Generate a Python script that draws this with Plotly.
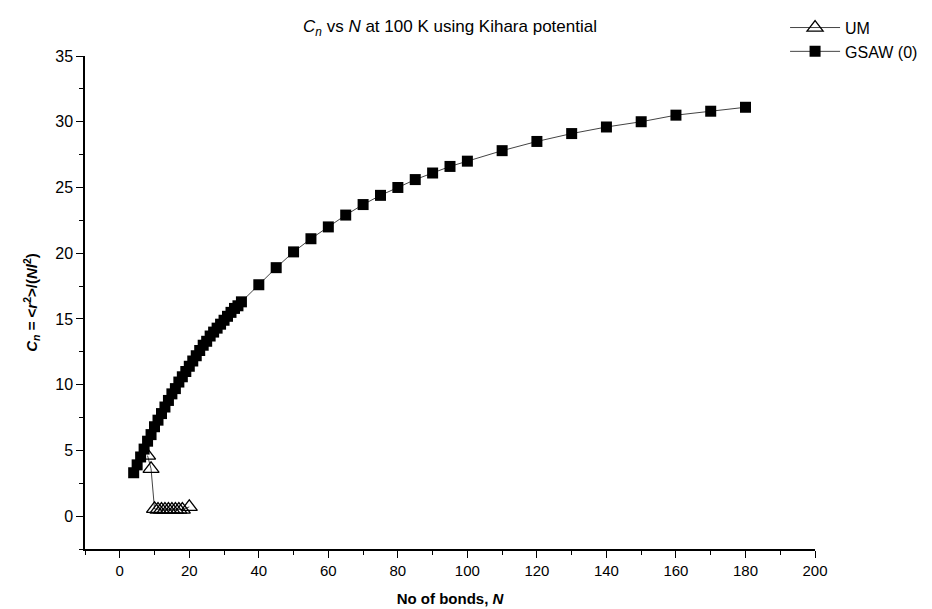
import plotly.graph_objects as go

# GSAW (0) data
gsaw_n = list(range(4, 36)) + list(range(40, 101, 5)) + list(range(110, 181, 10))
gsaw_cn = [3.3, 3.9, 4.5, 5.1, 5.7, 6.2, 6.8, 7.3, 7.8, 8.3, 8.8, 9.3, 9.7, 10.2, 10.6, 11.0,
           11.4, 11.8, 12.2, 12.6, 13.0, 13.3, 13.7, 14.0, 14.3, 14.6, 14.9, 15.2, 15.5, 15.8,
           16.0, 16.3,
           17.6, 18.9, 20.1, 21.1, 22.0, 22.9, 23.7, 24.4, 25.0, 25.6, 26.1, 26.6, 27.0,
           27.8, 28.5, 29.1, 29.6, 30.0, 30.5, 30.8, 31.1]

# UM data
um_n = [8, 9, 10, 11, 12, 13, 14, 15, 16, 17, 18, 20]
um_cn = [4.6, 3.6, 0.55, 0.5, 0.5, 0.5, 0.5, 0.5, 0.5, 0.5, 0.5, 0.7]

FONT = "Liberation Sans, Arial, sans-serif"

fig = go.Figure()
fig.add_trace(go.Scatter(
    x=um_n, y=um_cn, mode="lines+markers", name="UM",
    line=dict(color="#444444", width=1),
    marker=dict(symbol="triangle-up-open", size=14, color="black", line=dict(width=1.3, color="black")),
))
fig.add_trace(go.Scatter(
    x=gsaw_n, y=gsaw_cn, mode="lines+markers", name="GSAW (0)",
    line=dict(color="#444444", width=1),
    marker=dict(symbol="square", size=11, color="black", line=dict(width=0)),
))

fig.update_layout(
    width=932, height=609,
    paper_bgcolor="white", plot_bgcolor="white",
    margin=dict(l=85, r=117, t=56, b=60, autoexpand=False),
    font=dict(family=FONT, size=14, color="black"),
    title=dict(
        text="<i>C<sub>n</sub></i> vs <i>N</i> at 100 K using Kihara potential",
        x=0.5, xref="paper", xanchor="center", y=0.967, yref="container",
        font=dict(family=FONT, size=17, color="black"),
    ),
    legend=dict(
        x=0.959, y=1.092, xanchor="left", yanchor="top",
        bgcolor="rgba(0,0,0,0)", font=dict(family=FONT, size=16),
        tracegroupgap=0, itemwidth=50,
    ),
    showlegend=True,
)

fig.update_xaxes(
    range=[-10, 200], tick0=0, dtick=20,
    showline=True, linecolor="black", linewidth=1.5, mirror=False,
    ticks="outside", ticklen=7, tickwidth=1.3, tickcolor="black",
    minor=dict(ticks="outside", ticklen=4, tickwidth=1.3, tickcolor="black", dtick=10, tick0=0, showgrid=False),
    showgrid=False, zeroline=False,
    tickfont=dict(family=FONT, size=15),
    title=dict(text="<b>No of bonds, <i>N</i></b>", font=dict(family=FONT, size=15), standoff=16),
)
fig.update_yaxes(
    range=[-2.5, 35], tick0=0, dtick=5,
    showline=True, linecolor="black", linewidth=1.5, mirror=False,
    ticks="outside", ticklen=7, tickwidth=1.3, tickcolor="black",
    minor=dict(ticks="outside", ticklen=4, tickwidth=1.3, tickcolor="black", dtick=2.5, tick0=0, showgrid=False),
    showgrid=False, zeroline=False,
    tickfont=dict(family=FONT, size=16),
    title=dict(text="<b><i>C<sub>n</sub></i> = &lt;<i>r</i><sup>2</sup>&gt;/(<i>Nl</i><sup>2</sup>)</b>",
               font=dict(family=FONT, size=15), standoff=14),
)

fig.write_html("out.html", config={"displayModeBar": False},
               post_script="document.body.style.margin='0';")
